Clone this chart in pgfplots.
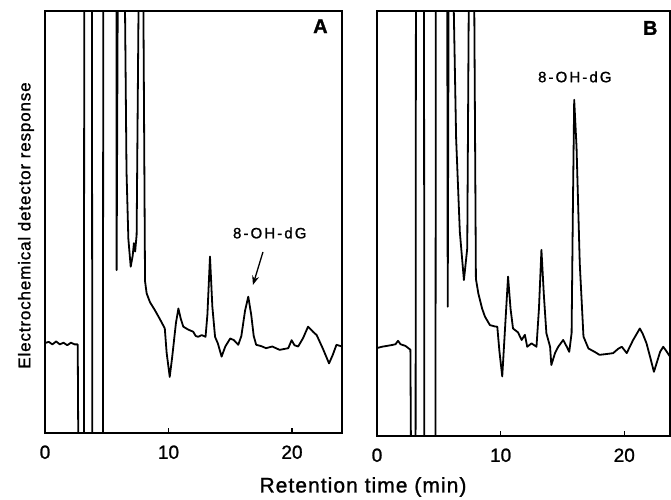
\documentclass[border=0pt]{standalone}
\usepackage{fontspec}
\setmainfont{Liberation Sans}[FakeBold=1.2]
\newfontfamily\spaced[LetterSpace=5,FakeBold=1.2]{Liberation Sans}
\newfontfamily\wide[LetterSpace=14,FakeBold=1.2]{Liberation Sans}
\usepackage{pgfplots}
\usetikzlibrary{arrows.meta}
\pgfplotsset{compat=1.18}
\begin{document}
\begin{tikzpicture}[x=1pt,y=1pt]
\useasboundingbox (0,0) rectangle (671,499);
\pgfplotsset{chrom/.style={
  scale only axis, anchor=south west,
  axis line style={line width=1.6pt},
  ymin=0, ymax=100,
  xtick={0,10,20}, ytick=\empty,
  tick align=inside, xtick pos=bottom,
  major tick length=5pt, major tick style={line width=1.2pt, black},
  tick label style={font=\fontsize{19}{21}\selectfont, /pgf/number format/assume math mode=true},
  xticklabel style={yshift=-9pt},
}}
\begin{axis}[chrom, at={(45pt,66pt)}, width=297pt, height=422pt, xmin=0, xmax=24.05]
\addplot[black, line width=1.8pt, line join=round] coordinates {
(0,21.3)(0.3,21.6)(0.6,21.0)(0.9,21.7)(1.2,21.0)(1.5,21.4)(1.8,20.8)(2.1,21.4)(2.4,21.0)(2.65,21.0)
(2.7,-5)(3.15,-5)(3.18,110)(3.8,110)(3.83,-5)(4.69,-5)(4.72,110)(5.78,110)(5.8,38.6)(5.9,110)
(6.45,110)(6.6,62)(6.75,46)(6.94,39.4)(7.1,42)(7.2,45)(7.3,43)(7.42,47)(7.6,110)(7.95,110)
(8.1,36)(8.23,33.1)(8.5,31)(8.9,29.1)(9.3,27)(9.7,24.8)(9.85,19)(10.1,13.3)(10.3,18)(10.6,26)
(10.8,29.5)(11.0,27)(11.2,25.2)(11.6,24.5)(12.0,24)(12.2,23)(12.4,22.8)(12.7,23.2)(13.0,22.8)
(13.15,28)(13.36,41.8)(13.55,30)(13.77,22.8)(14.0,21.2)(14.3,18.1)(14.6,20.5)(15.0,22.4)(15.3,22)
(15.65,20.9)(15.9,23)(16.2,29)(16.46,32.3)(16.7,28)(16.9,23)(17.1,20.9)(17.5,20.6)(17.9,20.1)
(18.4,20.5)(19.0,19.7)(19.7,20.1)(19.97,22)(20.2,20.8)(20.5,20.5)(20.9,22.5)(21.3,25.2)(21.7,24)
(22.0,23.2)(22.5,20)(23.0,16.5)(23.3,18.5)(23.6,20.9)(24.05,20.5)
};
\node[font=\fontsize{20}{22}\selectfont\bfseries] at (axis cs:22.3,96.4) {A};
\node[font=\fontsize{15}{17}\selectfont\wide] at (axis cs:18.2,47.4) {8-OH-dG};
\draw[-{Stealth[length=9pt,width=7pt]}, line width=1.3pt] (axis cs:17.65,42.9) -- (axis cs:16.84,35.1);
\end{axis}
\begin{axis}[chrom, at={(377pt,63pt)}, width=293pt, height=425pt, xmin=0, xmax=23.7]
\addplot[black, line width=1.8pt, line join=round] coordinates {
(0,20.7)(0.4,21.0)(0.8,21.2)(1.2,21.4)(1.5,21.6)(1.7,22.4)(1.9,21.6)(2.3,21.2)(2.7,20.3)
(2.75,-5)(3.12,-5)(3.15,110)(3.8,110)(3.83,-5)(4.73,-5)(4.76,110)(5.68,110)(5.72,30.4)(5.8,110)
(6.15,110)(6.4,70)(6.7,48)(7.03,36.7)(7.15,40)(7.3,44.2)(7.44,110)(7.85,110)
(8.0,37)(8.2,33.5)(8.5,30)(8.73,28.1)(9.13,26.1)(9.5,25.8)(9.73,25.7)(9.9,20)(10.13,14)(10.35,25)
(10.6,37.5)(10.8,30)(11.0,25.3)(11.4,24.4)(11.7,22.6)(11.96,23.8)(12.15,21)(12.5,21.8)(12.9,21)
(13.1,30)(13.3,43.8)(13.5,33)(13.7,24.2)(14.0,21)(14.1,16.7)(14.4,19.5)(14.66,21)(15.06,22.6)
(15.35,21)(15.55,19.8)(15.74,24.2)(15.85,55)(15.95,79.1)(16.14,68)(16.4,40.6)(16.7,23.4)(17.1,20.6)
(17.6,19.8)(18.0,19.1)(18.6,19.3)(19.1,19.5)(19.5,20.5)(19.8,21)(20.2,19.5)(20.7,22.5)(21.26,25.3)
(21.5,24)(21.8,21.8)(22.1,18.5)(22.4,15.1)(22.9,19.8)(23.15,21)(23.4,20)(23.7,18.7)
};
\node[font=\fontsize{20}{22}\selectfont\bfseries] at (axis cs:22.1,96.0) {B};
\node[font=\fontsize{15}{17}\selectfont\wide] at (axis cs:16.0,84.5) {8-OH-dG};
\end{axis}
\node[rotate=90, font=\fontsize{17}{19}\selectfont\spaced] at (26,273.5) {Electrochemical detector response};
\node[font=\fontsize{21}{23}\selectfont\spaced] at (363,12) {Retention time (min)};
\end{tikzpicture}
\end{document}
